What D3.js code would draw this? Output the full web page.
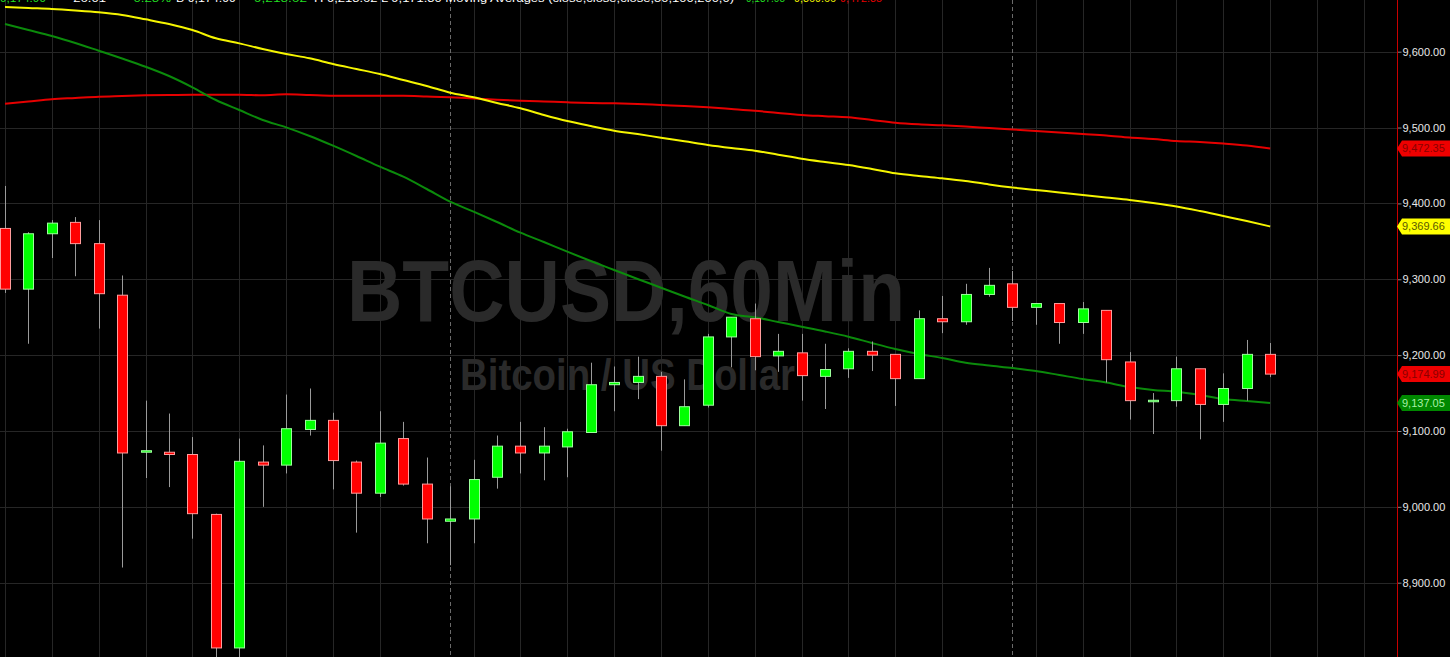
<!DOCTYPE html>
<html>
<head>
<meta charset="utf-8">
<script src="https://cdn.jsdelivr.net/npm/d3@7"></script>
<style>
html,body{margin:0;padding:0;background:#000;overflow:hidden;}
svg{display:block;}
</style>
</head>
<body>
<svg id="chart" width="1450" height="657"></svg>
<script>
// ---------- DATA ----------
const hours = ["05:00","06:00","07:00","08:00","09:00","10:00","11:00","12:00","13:00","14:00",
  "15:00","16:00","17:00","18:00","19:00","20:00","21:00","22:00","23:00","00:00",
  "01:00","02:00","03:00","04:00","05:00","06:00","07:00","08:00","09:00","10:00",
  "11:00","12:00","13:00","14:00","15:00","16:00","17:00","18:00","19:00","20:00",
  "21:00","22:00","23:00","00:00","01:00","02:00","03:00","04:00","05:00","06:00",
  "07:00","08:00","09:00","10:00","11:00"];
const open  = [9367,9287,9360,9375,9347,9279,9072,9072,9069,8990,8814,9059,9055,9102,9114,9059,9018,9090,9030,8981,
  8984,9039,9080,9071,9079,9098,9161,9164,9172,9107,9134,9224,9248,9199,9203,9172,9182,9205,9201,9169,
  9248,9244,9280,9294,9263,9268,9243,9259,9191,9140,9140,9182,9135,9156,9201];
const high  = [9423,9362,9378,9382,9378,9305,9140,9123,9092,8991,9090,9081,9148,9156,9124,9061,9126,9112,9065,9027,
  9062,9094,9112,9105,9103,9190,9185,9198,9178,9168,9228,9250,9268,9228,9228,9215,9209,9218,9201,9259,
  9278,9294,9315,9311,9268,9268,9270,9259,9204,9150,9198,9182,9176,9220,9216];
const low   = [9282,9215,9328,9304,9235,8920,9038,9026,8958,8790,8790,9000,9044,9094,9023,8966,9013,9028,8952,8923,
  8952,9024,9044,9035,9039,9098,9126,9142,9074,9107,9131,9184,9180,9178,9140,9129,9170,9179,9133,9169,
  9229,9240,9277,9245,9240,9215,9228,9164,9115,9096,9132,9089,9112,9140,9171];
const close = [9287,9360,9374,9347,9281,9071,9074,9069,8991,8814,9060,9055,9103,9114,9061,9018,9084,9030,8984,8984,
  9036,9080,9071,9080,9099,9161,9164,9172,9107,9132,9224,9250,9198,9205,9173,9181,9205,9200,9169,9248,
  9244,9280,9292,9263,9268,9243,9261,9194,9140,9140.5,9182,9135,9156,9201,9174.99];
const maGreen  = [9636.5,9628.6,9620.7,9611.5,9601.3,9591,9580.2,9568,9553.1,9536.3,9523.1,9510,9500.3,9488.9,9476.1,
  9462.5,9448.4,9435.2,9419,9402.3,9389.1,9375.5,9361.4,9349.1,9336.4,9324.1,9312.2,9300.4,9288.9,9277.3,
  9266.1,9254.2,9249.9,9243.7,9237.5,9231.2,9224.3,9216,9208.1,9201.5,9196.2,9190,9186.3,9183,9179.1,
  9173.8,9168.5,9163.9,9157.9,9154,9151.8,9147.5,9142.2,9139.5,9137.05];
const maYellow = [9659,9657.6,9656.3,9654.3,9651.9,9648.4,9642.7,9636.5,9628.6,9617.7,9611,9603.6,9597,9591.3,9583.8,
  9577.2,9570.6,9562.7,9554.8,9546,9539.9,9532.4,9525.4,9516.6,9508.6,9502,9495.9,9491.5,9486.6,9481.9,
  9477,9473,9469.5,9464.2,9458.9,9454.6,9450.6,9445.4,9439.7,9436.1,9433.1,9429.6,9425,9421,9417.7,
  9414.4,9411.1,9407.8,9404.5,9400.6,9396,9390,9383.4,9376.8,9369.66];
const maRed    = [9531.5,9534.4,9537.3,9539,9540.7,9541.6,9542.5,9542.9,9543.3,9543.3,9543.3,9542.5,9543.8,9542.9,9542,
  9542,9542,9542,9541,9539.9,9538.3,9536.7,9535.4,9534.4,9533.3,9532.4,9532,9531.1,9529.7,9528.4,
  9526.7,9524.5,9522.2,9519.2,9516.6,9515,9513.5,9510,9506.4,9504.3,9503,9501.4,9499.4,9497.4,9495.5,
  9493.5,9491.5,9489.5,9486.8,9484.9,9482.3,9481,9479,9476.4,9472.35];
const priceTicks = [8900,9000,9100,9200,9300,9400,9500,9600];
const daySeparators = [19,43];
const titleText = "BTCUSD,60Min";
const subtitleText = "Bitcoin / US Dollar";
const headerTexts = ["9,174.99","-26.01","-0.28%","B 9,174.99","9,218.62",
  "H 9,218.62 L 9,171.30 Moving Averages (close,close,close,50,100,200,0)",
  "9,137.05","9,369.66","9,472.35"];

// ---------- CHART ----------
const W = 1450, H = 657, axisX = 1397;
const FONT = "Liberation Sans, Arial, sans-serif";
const svg = d3.select("#chart");
svg.append("rect").attr("width",W).attr("height",H).attr("fill","#000");

const x = d3.scaleLinear().domain([0, 54]).range([5, 1270.2]);
const y = d3.scaleLinear().domain([8900, 9600]).range([582.7, 51.7]);
const idx = d3.range(open.length);

svg.append("clipPath").attr("id","plot").append("rect")
  .attr("x",0).attr("y",0).attr("width",axisX).attr("height",H);
const g = svg.append("g").attr("clip-path","url(#plot)");

// horizontal grid
g.selectAll("line.hg").data(priceTicks).join("line")
  .attr("x1",0).attr("x2",axisX).attr("y1",d=>Math.round(y(d))+0.5).attr("y2",d=>Math.round(y(d))+0.5)
  .attr("stroke","#262626").attr("stroke-width",1);
// vertical grid (every 2 hours, none just before a day separator)
const vgrid = d3.range(0, 60, 2).filter(i => !daySeparators.includes(i+1));
g.selectAll("line.vg").data(vgrid).join("line")
  .attr("x1",d=>Math.round(x(d))+0.5).attr("x2",d=>Math.round(x(d))+0.5).attr("y1",0).attr("y2",H)
  .attr("stroke","#262626").attr("stroke-width",1);
// day separators
g.selectAll("line.ds").data(daySeparators).join("line")
  .attr("x1",d=>Math.round(x(d))+0.5).attr("x2",d=>Math.round(x(d))+0.5).attr("y1",0).attr("y2",H)
  .attr("stroke","#6a6a6a").attr("stroke-width",1).attr("stroke-dasharray","4,3");

// watermark
g.append("text").text(titleText)
  .attr("x",347).attr("y",321).attr("textLength",558).attr("lengthAdjust","spacingAndGlyphs")
  .attr("font-family",FONT).attr("font-weight","bold")
  .attr("font-size",88).attr("fill","#2a2a2a");
g.append("text").text(subtitleText)
  .attr("x",460).attr("y",390).attr("textLength",335).attr("lengthAdjust","spacingAndGlyphs")
  .attr("font-family",FONT).attr("font-weight","bold")
  .attr("font-size",44).attr("fill","#2a2a2a");

// moving averages
const line = arr => d3.line().x(i=>x(i)).y(i=>y(arr[i])).curve(d3.curveMonotoneX)(idx);
g.append("path").attr("d",line(maRed)).attr("fill","none").attr("stroke","#e60000").attr("stroke-width",2);
g.append("path").attr("d",line(maYellow)).attr("fill","none").attr("stroke","#f5f500").attr("stroke-width",2);
g.append("path").attr("d",line(maGreen)).attr("fill","none").attr("stroke","#0b8a0b").attr("stroke-width",2);

// candles
const bw = 10;
const cg = g.selectAll("g.c").data(idx).join("g");
cg.append("line")
  .attr("x1",i=>Math.round(x(i))+0.5).attr("x2",i=>Math.round(x(i))+0.5)
  .attr("y1",i=>y(high[i])).attr("y2",i=>y(low[i]))
  .attr("stroke","#9a9a9a").attr("stroke-width",1);
cg.append("rect")
  .attr("x",i=>Math.round(x(i))-bw/2+0.5)
  .attr("y",i=>Math.min(y(open[i]),y(close[i])))
  .attr("width",bw)
  .attr("height",i=>Math.max(1.5,Math.abs(y(open[i])-y(close[i]))))
  .attr("fill",i=>close[i]>=open[i]?"#00ff00":"#ff0000")
  .attr("stroke",i=>close[i]>=open[i]?"#9cff9c":"#ff9c9c")
  .attr("stroke-width",1);

// header line (mostly cut off at top, as in the original)
const hdrPos = [[0,46,"#22dd22"],[69,37,"#ffffff"],[129,42,"#22dd22"],[176,60,"#ffffff"],[254,53,"#22dd22"],
  [314,420,"#ffffff"],[746,39,"#22dd22"],[794,42,"#f5f500"],[840,42,"#e60000"]];
headerTexts.forEach((t,k)=>{
  svg.append("text").attr("x",hdrPos[k][0]).attr("y",2)
    .attr("textLength",hdrPos[k][1]).attr("lengthAdjust","spacingAndGlyphs")
    .attr("font-family",FONT).attr("font-size",10).attr("fill",hdrPos[k][2]).text(t);
});

// right axis
const axis = d3.axisRight(y).tickValues(priceTicks).tickFormat(d3.format(",.2f")).tickSize(4).tickPadding(1);
const ag = svg.append("g").attr("transform",`translate(${axisX+0.5},0)`).call(axis);
ag.select(".domain").remove();
ag.selectAll(".tick line").attr("stroke","#888");
ag.selectAll(".tick text").attr("fill","#e8e8e8").attr("font-size",11)
  .attr("font-family",FONT);
svg.append("line").attr("x1",axisX+0.5).attr("x2",axisX+0.5).attr("y1",0).attr("y2",H)
  .attr("stroke","#c80000").attr("stroke-width",1);

// value tags
const tags = [
  {v: maRed[maRed.length-1], bg:"#ee0000", fg:"#8a0000"},
  {v: maYellow[maYellow.length-1], bg:"#ffff00", fg:"#5a5a00"},
  {v: close[close.length-1], bg:"#ee0000", fg:"#8a0000"},
  {v: maGreen[maGreen.length-1], bg:"#008800", fg:"#a8f0a8"}];
const fmt = d3.format(",.2f");
tags.forEach(t=>{
  const yy = y(t.v);
  svg.append("path")
    .attr("d",`M${axisX},${yy} L${axisX+5},${yy-8} L1450,${yy-8} L1450,${yy+8} L${axisX+5},${yy+8} Z`)
    .attr("fill",t.bg);
  svg.append("text").attr("x",axisX+5).attr("y",yy).attr("dy","0.36em")
    .attr("fill",t.fg).attr("font-size",11).attr("font-family",FONT)
    .text(fmt(t.v));
});
</script>
</body>
</html>
